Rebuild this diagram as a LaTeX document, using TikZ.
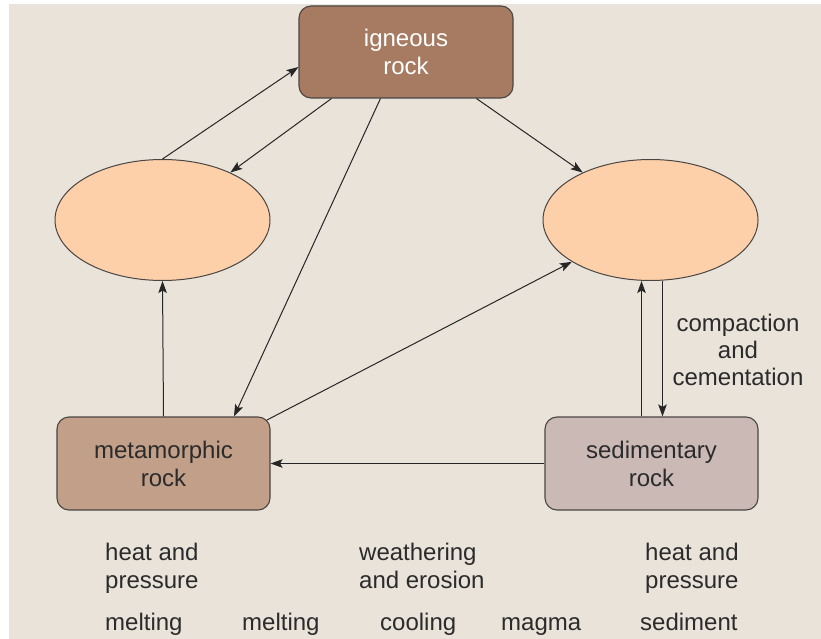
\documentclass[tikz,border=0pt]{standalone}
\usepackage{fontspec}
\setmainfont{Liberation Sans}
\usetikzlibrary{shapes.geometric,arrows.meta,calc}
\definecolor{bg}{HTML}{E9E3DA}
\definecolor{igncol}{HTML}{A67B62}
\definecolor{metcol}{HTML}{C19F88}
\definecolor{sedcol}{HTML}{CBB9B5}
\definecolor{ellcol}{HTML}{FDD0AA}
\definecolor{edgecol}{HTML}{4A4542}
\definecolor{txtcol}{HTML}{2B2B2B}
\tikzset{
  rockbox/.style={draw=edgecol, line width=1.1pt, rounded corners=12pt, align=center,
    inner sep=0pt, minimum width=213pt, minimum height=93pt, text=txtcol},
  blob/.style={ellipse, draw=edgecol, line width=1pt, fill=ellcol, inner sep=0pt,
    minimum width=215pt, minimum height=121pt},
  arr/.style={line width=1pt, draw=black!85, -{Stealth[length=12pt,width=8.5pt,inset=2.5pt]}},
  lbl/.style={align=left, anchor=west, inner sep=0pt, text=txtcol},
}
\begin{document}
\begin{tikzpicture}[x=1pt,y=-1pt,font=\fontsize{24}{28}\selectfont]
\useasboundingbox (0,0) rectangle (821,639);
\fill[white] (0,0) rectangle (821,639);
\fill[bg] (9,4) rectangle (821,639);

\node[rockbox, fill=igncol, text=white, minimum width=214pt, minimum height=92pt] (ign) at (406,52) {igneous\\rock};
\node[rockbox, fill=metcol] (meta) at (163.5,463.5) {metamorphic\\rock};
\node[rockbox, fill=sedcol] (sed) at (651.5,463.5) {sedimentary\\rock};
\node[blob] (L) at (162.5,220) {};
\node[blob] (R) at (650.5,220) {};

\draw[arr] (L.north) -- ([yshift=-15pt]ign.west);
\draw[arr] ([xshift=33pt]ign.south west) -- (L.35);
\draw[arr] ([xshift=82pt]ign.south west) -- ([xshift=70.5pt]meta.north);
\draw[arr] ([xshift=178pt]ign.south west) -- (R.145);
\draw[arr] ([xshift=-3.5pt,yshift=-3.5pt]meta.north east) -- (R.208);
\draw[arr] (meta.north) -- (L.south);
\coordinate (a) at ([xshift=-10pt]sed.north);
\draw[arr] (a) -- (a |- R.south);
\coordinate (b) at ([xshift=12pt]R.south);
\draw[arr] (b) -- (b |- sed.north);
\draw[arr] (sed.west) -- (meta.east);

\node[align=center, inner sep=0pt, text=txtcol, font=\fontsize{24}{27}\selectfont] (comp) at (738,350) {compaction\\and\\cementation};

\node[lbl] (hp1) at (105,569) {\strut heat and\\pressure\strut};
\node[lbl] (we) at (359,569) {\strut weathering\\and erosion\strut};
\node[lbl] (hp2) at (645,569) {\strut heat and\\pressure\strut};
\node[lbl, anchor=base west] (m1) at (105,630) {melting};
\node[lbl, anchor=base west] (m2) at (242,630) {melting};
\node[lbl, anchor=base west] (co) at (380,630) {cooling};
\node[lbl, anchor=base west] (ma) at (501,630) {magma};
\node[lbl, anchor=base west] (se) at (640,630) {sediment};
\end{tikzpicture}
\end{document}
